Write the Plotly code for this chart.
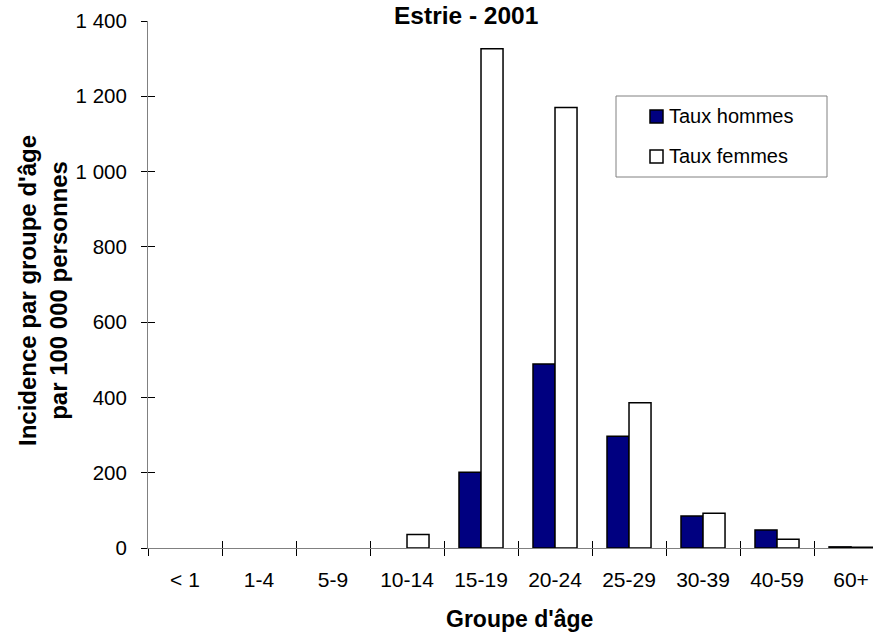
import plotly.graph_objects as go

categories = ["< 1", "1-4", "5-9", "10-14", "15-19", "20-24", "25-29", "30-39", "40-59", "60+"]
taux_hommes = [0, 0, 0, 0, 201, 489, 297, 85, 48, 3]
taux_femmes = [0, 0, 0, 36, 1326, 1170, 386, 92, 23, 2]
y_tickvals = [0, 200, 400, 600, 800, 1000, 1200, 1400]
y_ticktext = ["0", "200", "400", "600", "800", "1 000", "1 200", "1 400"]
boundaries = [0.5, 1.5, 2.5, 3.5, 4.5, 5.5, 6.5, 7.5, 8.5]

W, H = 873, 634
L, R, T, B = 148, 0, 21, 86
FONT = "Liberation Sans, Arial, sans-serif"
XR = [-0.5, 9.297]


def px(x):
    return (x - L) / (W - L - R)


def py(y):
    return (H - B - y) / (H - B - T)


def nz(vals):
    # zero rates are not drawn as bars in the reference
    return [v if v else None for v in vals]


fig = go.Figure()
fig.add_trace(go.Bar(x=categories, y=nz(taux_hommes), name="Taux hommes",
                     marker=dict(color="#000080", line=dict(color="black", width=1.5))))
fig.add_trace(go.Bar(x=categories, y=nz(taux_femmes), name="Taux femmes",
                     marker=dict(color="white", line=dict(color="black", width=1.5))))
fig.add_trace(go.Scatter(x=[], y=[], xaxis="x2", yaxis="y2", showlegend=False))

fig.update_layout(
    width=W, height=H,
    margin=dict(l=L, r=R, t=T, b=B, pad=0),
    paper_bgcolor="white", plot_bgcolor="white",
    showlegend=False,
    barmode="group", bargap=0.405, bargroupgap=0,
    font=dict(family=FONT, size=21, color="black"),
    xaxis=dict(type="category", range=XR, tickson="boundaries", ticks="outside",
               ticklen=7, tickcolor="black", tickwidth=1, showline=True,
               linecolor="#808080", linewidth=1, showgrid=False, zeroline=False,
               tickfont=dict(size=21), ticklabelstandoff=13),
    yaxis=dict(range=[0, 1400], tickvals=y_tickvals, ticktext=y_ticktext,
               ticks="outside", ticklen=6, tickcolor="black", tickwidth=1,
               showline=True, linecolor="#808080", linewidth=1, showgrid=False,
               zeroline=False, tickfont=dict(size=20.5), ticklabelstandoff=10),
    xaxis2=dict(overlaying="x", anchor="y2", range=XR, tickvals=boundaries,
                ticks="inside", ticklen=7, tickcolor="black", showticklabels=False,
                showline=False, showgrid=False, zeroline=False),
    yaxis2=dict(overlaying="y", anchor="x2", side="left", range=[0, 1400],
                tickvals=y_tickvals, ticks="inside", ticklen=7, tickcolor="black",
                showticklabels=False, showline=False, showgrid=False, zeroline=False),
)

annotations = [
    dict(text="<b>Estrie - 2001</b>", x=px(466), y=py(0), xref="paper", yref="paper",
         showarrow=False, xanchor="center", yanchor="top", font=dict(size=24.5)),
    dict(text="<b>Groupe d'âge</b>", x=px(519), y=py(634), xref="paper", yref="paper",
         showarrow=False, xanchor="center", yanchor="bottom", font=dict(size=23)),
    dict(text="<b>Incidence par groupe d'âge<br>par 100 000 personnes</b>",
         x=px(43), y=py(290), xref="paper", yref="paper", textangle=-90,
         showarrow=False, xanchor="center", yanchor="middle", font=dict(size=24)),
    dict(text="Taux hommes", x=px(667), y=py(116), xref="paper", yref="paper",
         showarrow=False, xanchor="left", yanchor="middle", font=dict(size=20)),
    dict(text="Taux femmes", x=px(667), y=py(156), xref="paper", yref="paper",
         showarrow=False, xanchor="left", yanchor="middle", font=dict(size=20)),
]
shapes = [
    dict(type="rect", xref="paper", yref="paper", x0=px(616), x1=px(827), y0=py(96), y1=py(177),
         line=dict(color="#808080", width=1), fillcolor="white", layer="above"),
    dict(type="rect", xref="paper", yref="paper", x0=px(650), x1=px(663), y0=py(110), y1=py(123),
         line=dict(color="black", width=1.5), fillcolor="#000080", layer="above"),
    dict(type="rect", xref="paper", yref="paper", x0=px(650), x1=px(663), y0=py(150), y1=py(163),
         line=dict(color="black", width=1.5), fillcolor="white", layer="above"),
]
fig.update_layout(annotations=annotations, shapes=shapes)

fig.write_html("out.html")
